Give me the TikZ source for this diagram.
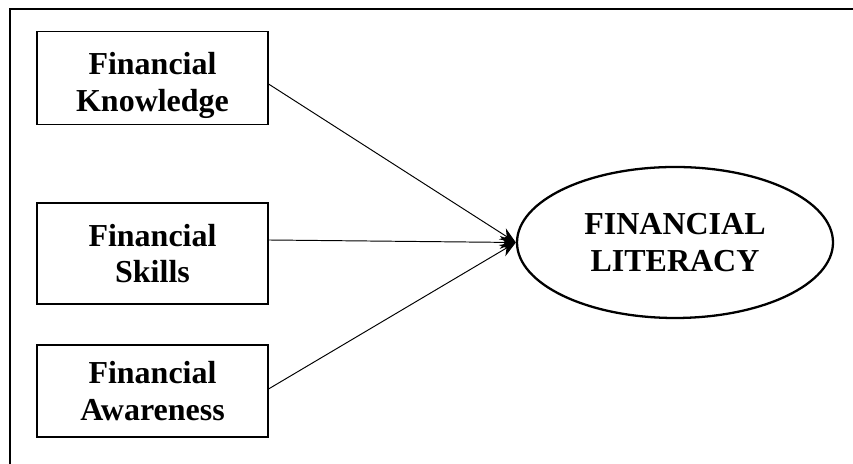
\documentclass[tikz,border=0pt]{standalone}
\usepackage{fontspec}
\setmainfont{Liberation Serif}
\usetikzlibrary{arrows.meta,shapes.geometric}
\tikzset{
    factor/.style={draw,line width=0.6pt,minimum width=4.62cm,align=center,
        font=\bfseries\fontsize{18.2}{20.8}\selectfont},
    literacy/.style={draw,ellipse,line width=1.3pt,minimum width=6.32cm,minimum height=3.02cm,
        align=center,font=\bfseries\fontsize{18.2}{21}\selectfont},
    link/.style={line width=0.55pt,-{Stealth[length=0.32cm,width=0.26cm]}}
}
\begin{document}
\begin{tikzpicture}
    \useasboundingbox (0,0) rectangle (17.06,9.28);
    \draw[line width=1.4pt] (0.2,0) |- (17.06,9.1);
    \node[factor,minimum height=1.8cm] (knowledge) at (3.05,7.72) {\rule{0pt}{0.75cm}Financial\\Knowledge};
    \node[factor,minimum height=2.02cm] (skills) at (3.05,4.21) {Financial\\Skills};
    \node[factor,minimum height=1.84cm] (awareness) at (3.05,1.46) {Financial\\Awareness};
    \node[literacy] (fl) at (13.5,4.43) {FINANCIAL\\LITERACY};
    \draw[link] ([yshift=-0.12cm]knowledge.east) -- (fl.west);
    \draw[link] ([yshift=0.27cm]skills.east) -- (fl.west);
    \draw[link] ([yshift=0.04cm]awareness.east) -- (fl.west);
\end{tikzpicture}
\end{document}
